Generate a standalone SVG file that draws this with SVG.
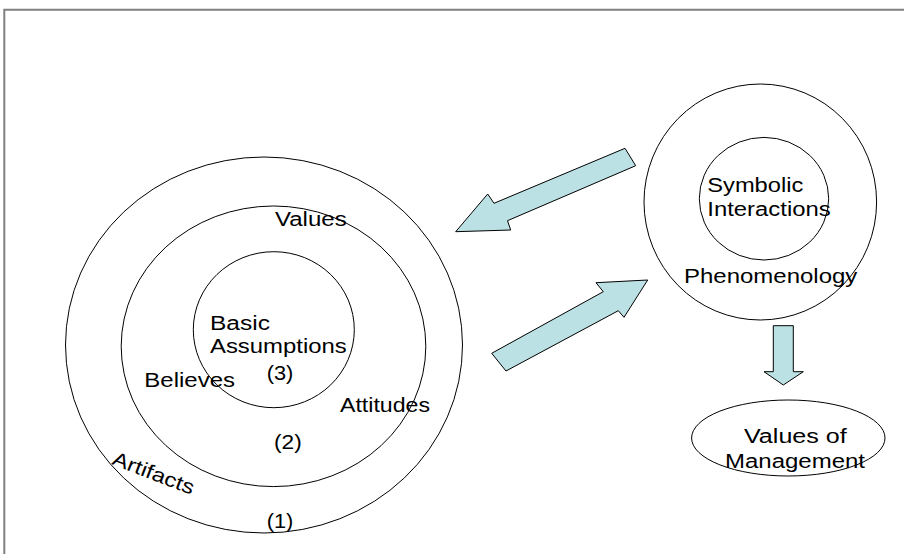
<svg xmlns="http://www.w3.org/2000/svg" width="904" height="554" viewBox="0 0 904 554">
  <style>
    .ring { fill: none; stroke: #000; stroke-width: 1; }
    .lbl { font-family: "Liberation Sans", Arial, sans-serif; font-size: 20px; fill: #000; }
    .flow { fill: #BCE1E4; stroke: #000; stroke-width: 1; stroke-linejoin: miter; }
    .frame { stroke: #808080; stroke-width: 2; fill: none; }
  </style>
  <rect width="904" height="554" fill="#fff"/>
  <!-- page frame (top and left edges) -->
  <path class="frame" d="M4.3 554 V9.7 H904"/>

  <!-- culture layers -->
  <g id="artifacts">
    <ellipse class="ring" cx="264" cy="345" rx="198.5" ry="188"/>
    <text class="lbl" x="0" y="0" textLength="86" lengthAdjust="spacingAndGlyphs" transform="translate(111,464) rotate(21)">Artifacts</text>
    <text class="lbl" x="266.7" y="528.3" textLength="26.6" lengthAdjust="spacingAndGlyphs">(1)</text>
  </g>
  <g id="values-layer">
    <ellipse class="ring" cx="273.5" cy="346.3" rx="152.3" ry="140.3"/>
    <text class="lbl" x="275" y="226" textLength="71.7" lengthAdjust="spacingAndGlyphs">Values</text>
    <text class="lbl" x="144.3" y="387.3" textLength="90.7" lengthAdjust="spacingAndGlyphs">Believes</text>
    <text class="lbl" x="340" y="411.7" textLength="90" lengthAdjust="spacingAndGlyphs">Attitudes</text>
    <text class="lbl" x="274" y="449.3" textLength="27.7" lengthAdjust="spacingAndGlyphs">(2)</text>
  </g>
  <g id="basic-assumptions">
    <ellipse class="ring" cx="273.8" cy="329.7" rx="80.5" ry="78"/>
    <text class="lbl" x="210" y="330" textLength="60" lengthAdjust="spacingAndGlyphs">Basic</text>
    <text class="lbl" x="210" y="353.3" textLength="136.7" lengthAdjust="spacingAndGlyphs">Assumptions</text>
    <text class="lbl" x="266.7" y="379.5" textLength="26.6" lengthAdjust="spacingAndGlyphs">(3)</text>
  </g>

  <!-- interpretive perspective -->
  <g id="phenomenology">
    <ellipse class="ring" cx="760.3" cy="202" rx="116.3" ry="118"/>
    <text class="lbl" x="684" y="282.7" textLength="173.3" lengthAdjust="spacingAndGlyphs">Phenomenology</text>
  </g>
  <g id="symbolic-interactions">
    <ellipse class="ring" cx="764" cy="198.7" rx="64.7" ry="61.3"/>
    <text class="lbl" x="707.3" y="192.3" textLength="96" lengthAdjust="spacingAndGlyphs">Symbolic</text>
    <text class="lbl" x="707.3" y="216" textLength="123.4" lengthAdjust="spacingAndGlyphs">Interactions</text>
  </g>
  <g id="values-of-management">
    <ellipse class="ring" cx="788.3" cy="438" rx="96.7" ry="38"/>
    <text class="lbl" x="744" y="443.3" textLength="102.7" lengthAdjust="spacingAndGlyphs">Values of</text>
    <text class="lbl" x="725" y="468.3" textLength="140" lengthAdjust="spacingAndGlyphs">Management</text>
  </g>

  <!-- block arrows -->
  <g id="connectors">
    <polygon class="flow" points="625,148.3 635.7,165.7 507.5,220.7 510.7,230 455.7,231.7 487.7,194 494,203.3"/>
    <polygon class="flow" points="491.7,353.3 603.3,291.7 596,282.7 647.7,280 624,317.3 618.3,310.7 506,371"/>
    <polygon class="flow" points="773.3,325.7 793.3,325.7 793.3,371.7 803.3,371.7 783.3,385 764,371.7 773.3,371.7"/>
  </g>
</svg>
